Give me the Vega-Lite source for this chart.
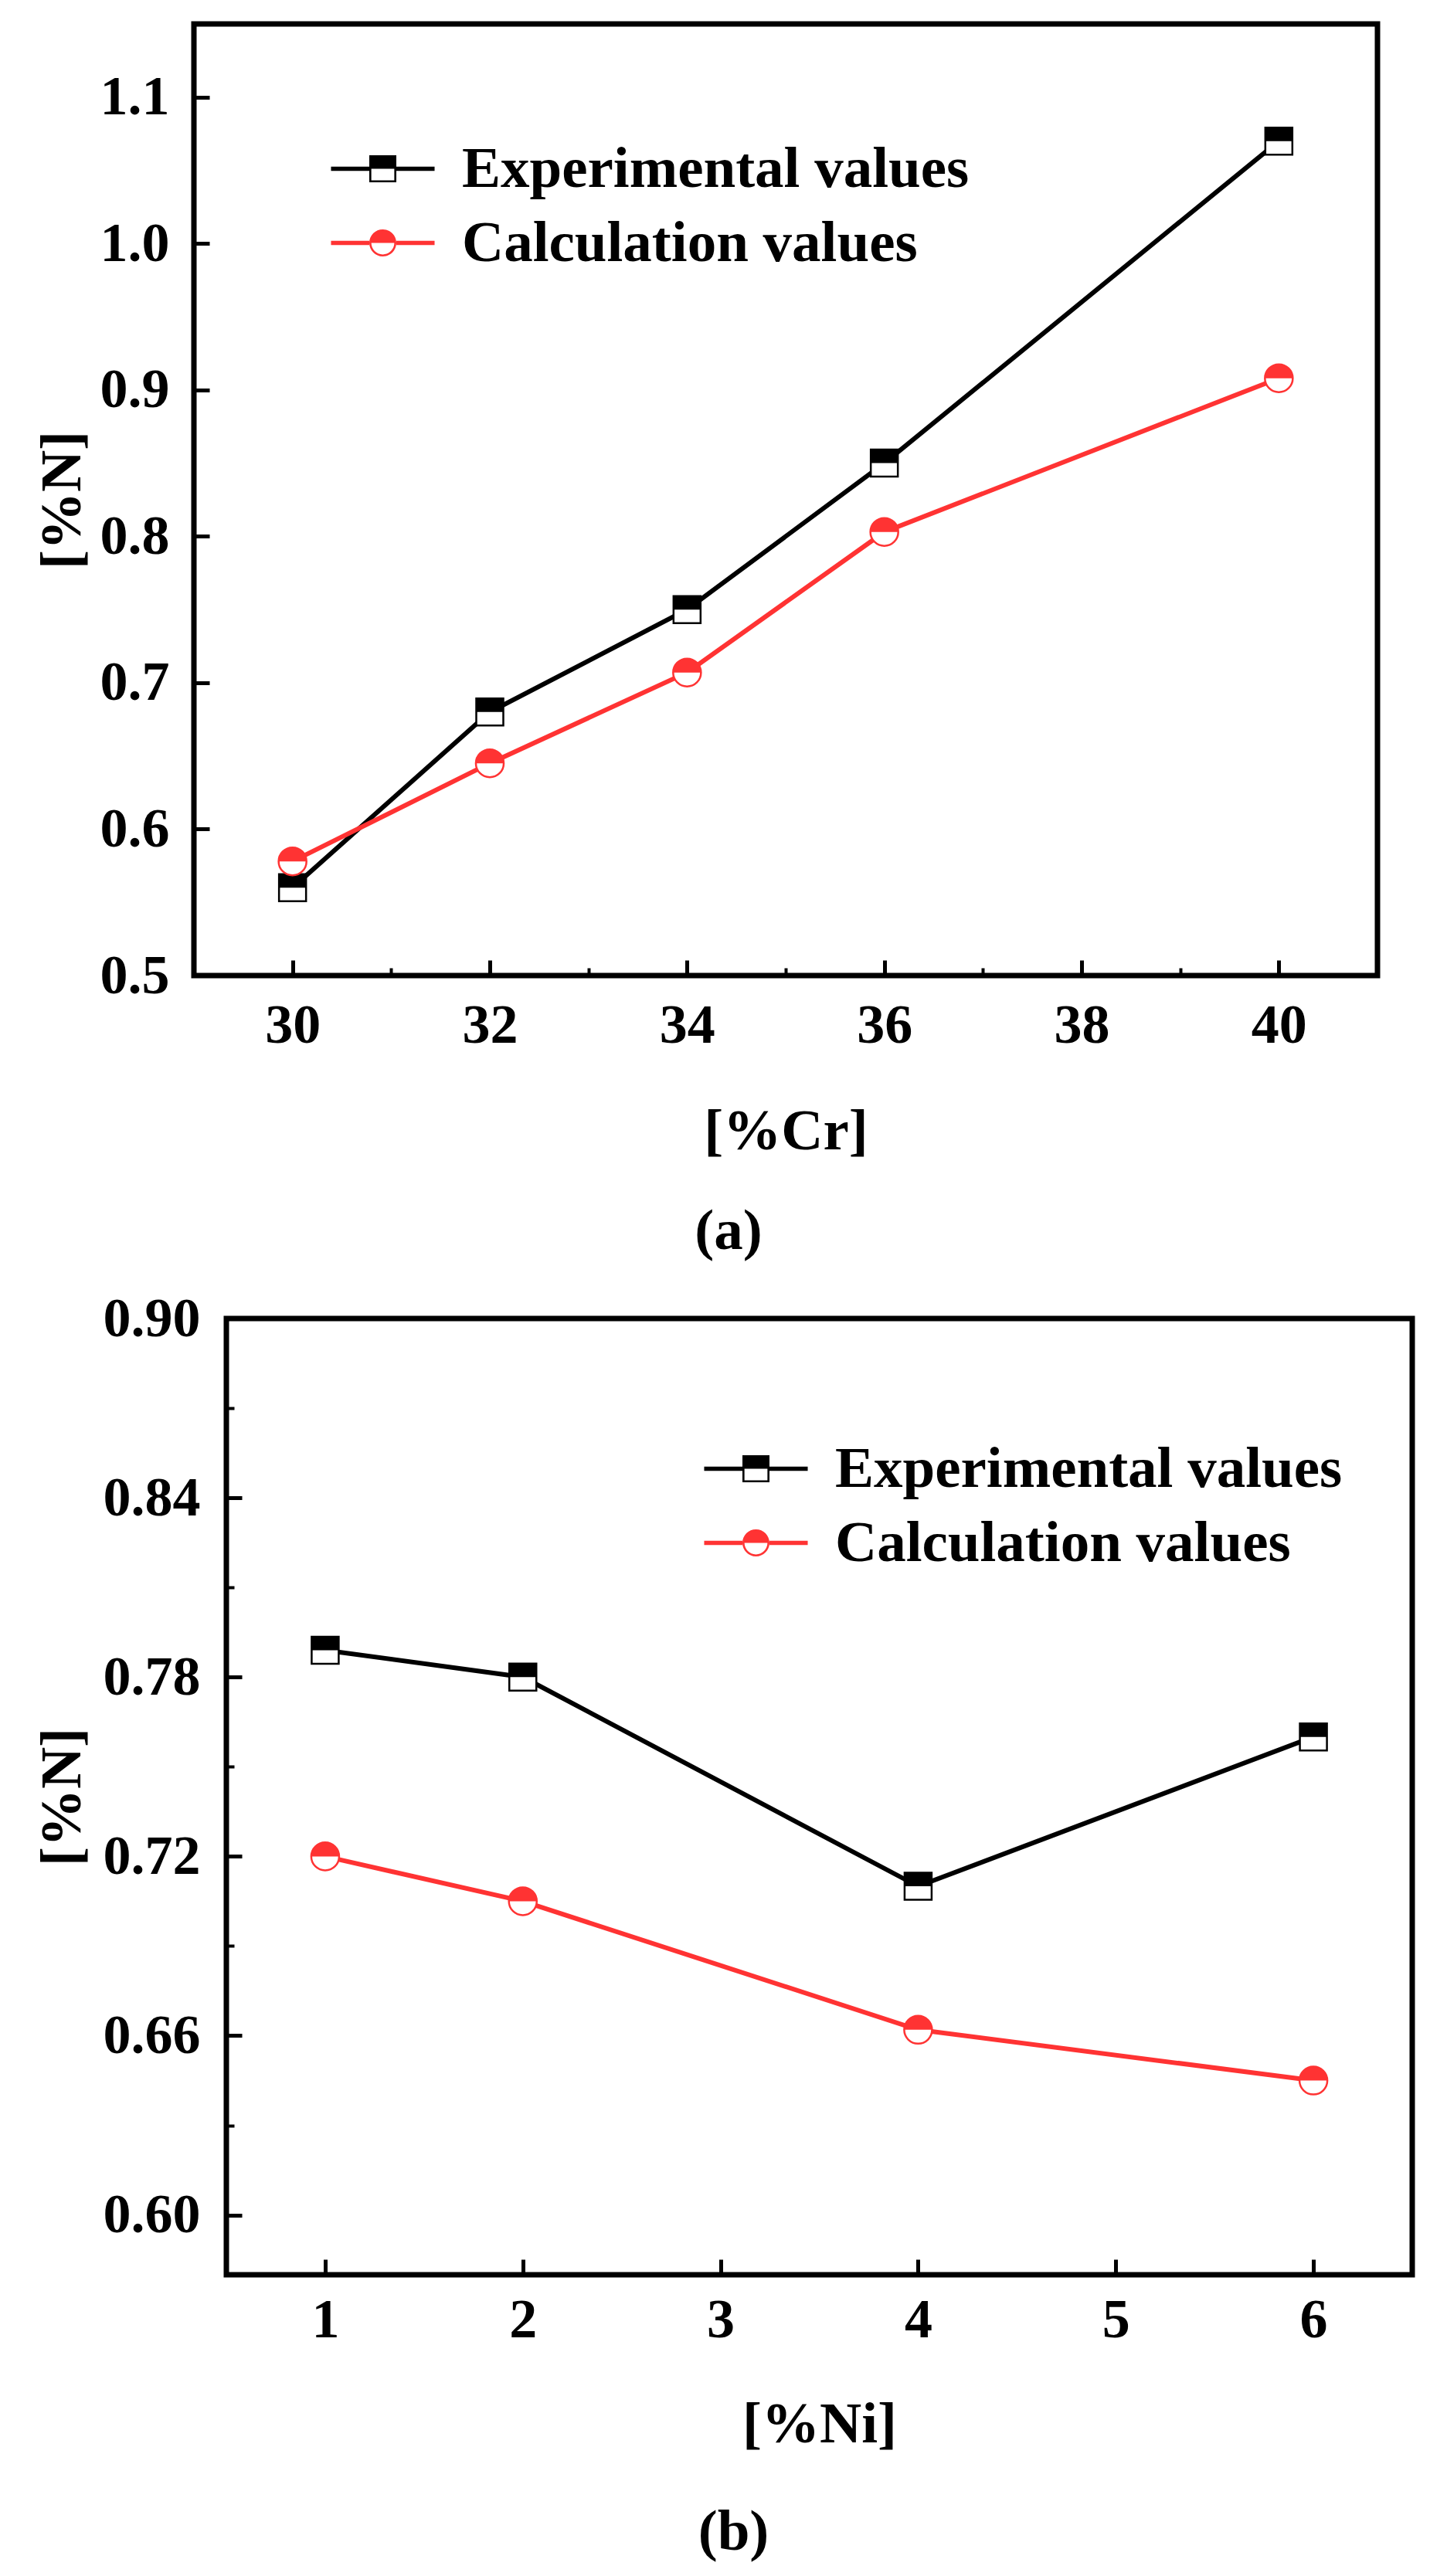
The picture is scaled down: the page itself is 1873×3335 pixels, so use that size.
{
  "$schema": "https://vega.github.io/schema/vega-lite/v6.json",
  "description": "Nitrogen solubility [%N] against [%Cr] (a) and [%Ni] (b): experimental vs calculated values",
  "background": "white",
  "padding": {"left": 38, "top": 27, "right": 0, "bottom": 0},
  "datasets": {
    "cr": [
      {"x": 30, "n": 0.56, "series": "Experimental values"},
      {"x": 32, "n": 0.68, "series": "Experimental values"},
      {"x": 34, "n": 0.75, "series": "Experimental values"},
      {"x": 36, "n": 0.85, "series": "Experimental values"},
      {"x": 40, "n": 1.07, "series": "Experimental values"},
      {"x": 30, "n": 0.578, "series": "Calculation values"},
      {"x": 32, "n": 0.645, "series": "Calculation values"},
      {"x": 34, "n": 0.707, "series": "Calculation values"},
      {"x": 36, "n": 0.803, "series": "Calculation values"},
      {"x": 40, "n": 0.908, "series": "Calculation values"}
    ],
    "ni": [
      {"x": 1, "n": 0.789, "series": "Experimental values"},
      {"x": 2, "n": 0.78, "series": "Experimental values"},
      {"x": 4, "n": 0.71, "series": "Experimental values"},
      {"x": 6, "n": 0.76, "series": "Experimental values"},
      {"x": 1, "n": 0.72, "series": "Calculation values"},
      {"x": 2, "n": 0.705, "series": "Calculation values"},
      {"x": 4, "n": 0.662, "series": "Calculation values"},
      {"x": 6, "n": 0.645, "series": "Calculation values"}
    ],
    "none": []
  },
  "spacing": 31,
  "resolve": {
    "scale": {"color": "independent", "shape": "independent"},
    "legend": {"color": "independent", "shape": "independent"}
  },
  "vconcat": [
    {
      "spacing": 0,
      "hconcat": [
        {
          "width": 1,
          "height": 1,
          "data": {"name": "none"},
          "mark": {"type": "rule"},
          "encoding": {},
          "view": {"stroke": null}
        },
        {
          "width": 1532,
          "height": 1232,
          "title": {"text": "(a)", "dx": -74, "offset": 56},
          "data": {"name": "cr"},
          "encoding": {
            "x": {
              "field": "x", "type": "quantitative",
              "scale": {"domain": [29, 41], "nice": false, "zero": false},
              "axis": {
                "title": "[%Cr]",
                "values": [30, 31, 32, 33, 34, 35, 36, 37, 38, 39, 40],
                "format": "d",
                "labelExpr": "datum.value % 2 == 0 ? datum.label : ''",
                "tickSize": {"condition": {"test": "datum.value % 2 == 0", "value": -20}, "value": -10},
                "tickWidth": {"condition": {"test": "datum.value % 2 == 0", "value": 5}, "value": 4},
                "labelPadding": 49,
                "titlePadding": 55
              }
            },
            "y": {
              "field": "n", "type": "quantitative",
              "scale": {"domain": [0.5, 1.15], "nice": false, "zero": false},
              "axis": {
                "title": "[%N]",
                "values": [0.5, 0.6, 0.7, 0.8, 0.9, 1.0, 1.1],
                "format": ".1f",
                "tickSize": -20,
                "tickWidth": 5,
                "labelPadding": 52,
                "titlePadding": 10
              }
            }
          },
          "layer": [
            {
              "transform": [{"filter": "datum.series == 'Experimental values'"}],
              "mark": {"type": "line", "color": "#000000", "strokeWidth": 6}
            },
            {
              "transform": [{"filter": "datum.series == 'Calculation values'"}],
              "mark": {"type": "line", "color": "#ff3333", "strokeWidth": 6}
            },
            {
              "transform": [{"filter": "datum.series == 'Experimental values'"}],
              "mark": {"type": "point", "shape": "square", "filled": true, "fill": "white", "stroke": "#000000", "strokeWidth": 2.5, "size": 1225, "opacity": 1}
            },
            {
              "transform": [{"filter": "datum.series == 'Experimental values'"}],
              "mark": {"type": "point", "shape": "M-1,-1H1V0H-1Z", "filled": true, "fill": "#000000", "strokeWidth": 0, "size": 1225, "opacity": 1}
            },
            {
              "transform": [{"filter": "datum.series == 'Calculation values'"}],
              "mark": {"type": "point", "shape": "circle", "filled": true, "fill": "white", "stroke": "#ff3333", "strokeWidth": 2.5, "size": 1300, "opacity": 1}
            },
            {
              "transform": [{"filter": "datum.series == 'Calculation values'"}],
              "mark": {"type": "point", "shape": "M-1,0A1,1 0 0 1 1,0Z", "filled": true, "fill": "#ff3333", "strokeWidth": 0, "size": 1300, "opacity": 1}
            },
            {
              "transform": [{"filter": "false"}],
              "mark": {"type": "point", "filled": true, "opacity": 1},
              "encoding": {
                "color": {
                  "field": "series", "type": "nominal",
                  "scale": {"domain": ["Experimental values", "Calculation values"], "range": ["#000000", "#ff3333"]},
                  "legend": {"title": null, "orient": "none", "legendX": 420, "legendY": 150}
                },
                "shape": {
                  "field": "series", "type": "nominal",
                  "scale": {
                    "domain": ["Experimental values", "Calculation values"],
                    "range": [
                      "M-3.83,-0.16H-1V0.16H-3.83ZM1,-0.16H3.83V0.16H1ZM-1,-1H1V0H-1ZM-1,0H1V1H-1ZM-0.85,0V0.85H0.85V0Z",
                      "M-3.83,-0.16H-1V0.16H-3.83ZM1,-0.16H3.83V0.16H1ZM-1,0A1,1 0 0 1 1,0A1,1 0 0 1 -1,0ZM0.85,0H-0.85A0.85,0.85 0 0 0 0.85,0Z"
                    ]
                  },
                  "legend": {"title": null, "orient": "none", "legendX": 420, "legendY": 150}
                }
              }
            }
          ]
        }
      ]
    },
    {
      "spacing": 0,
      "hconcat": [
        {
          "width": 1,
          "height": 1,
          "data": {"name": "none"},
          "mark": {"type": "rule"},
          "encoding": {},
          "view": {"stroke": null}
        },
        {
          "width": 1535,
          "height": 1238,
          "title": {"text": "(b)", "dx": -111, "offset": 66},
          "data": {"name": "ni"},
          "encoding": {
            "x": {
              "field": "x", "type": "quantitative",
              "scale": {"domain": [0.5, 6.5], "nice": false, "zero": false},
              "axis": {
                "title": "[%Ni]",
                "values": [1, 1.5, 2, 2.5, 3, 3.5, 4, 4.5, 5, 5.5, 6],
                "format": "d",
                "labelExpr": "datum.value % 1 == 0 ? datum.label : ''",
                "tickSize": {"condition": {"test": "datum.value % 1 == 0", "value": -20}, "value": -10},
                "tickWidth": {"condition": {"test": "datum.value % 1 == 0", "value": 5}, "value": 4},
                "labelPadding": 43,
                "titlePadding": 63
              }
            },
            "y": {
              "field": "n", "type": "quantitative",
              "scale": {"domain": [0.58, 0.9], "nice": false, "zero": false},
              "axis": {
                "title": "[%N]",
                "values": [0.6, 0.63, 0.66, 0.69, 0.72, 0.75, 0.78, 0.81, 0.84, 0.87, 0.9],
                "format": ".2f",
                "labelExpr": "round(datum.value * 100) % 6 == 0 ? datum.label : ''",
                "tickSize": {"condition": {"test": "round(datum.value * 100) % 6 == 0", "value": -20}, "value": -10},
                "tickWidth": {"condition": {"test": "round(datum.value * 100) % 6 == 0", "value": 5}, "value": 4},
                "labelPadding": 54,
                "titlePadding": 14
              }
            }
          },
          "layer": [
            {
              "transform": [{"filter": "datum.series == 'Experimental values'"}],
              "mark": {"type": "line", "color": "#000000", "strokeWidth": 6}
            },
            {
              "transform": [{"filter": "datum.series == 'Calculation values'"}],
              "mark": {"type": "line", "color": "#ff3333", "strokeWidth": 6}
            },
            {
              "transform": [{"filter": "datum.series == 'Experimental values'"}],
              "mark": {"type": "point", "shape": "square", "filled": true, "fill": "white", "stroke": "#000000", "strokeWidth": 2.5, "size": 1225, "opacity": 1}
            },
            {
              "transform": [{"filter": "datum.series == 'Experimental values'"}],
              "mark": {"type": "point", "shape": "M-1,-1H1V0H-1Z", "filled": true, "fill": "#000000", "strokeWidth": 0, "size": 1225, "opacity": 1}
            },
            {
              "transform": [{"filter": "datum.series == 'Calculation values'"}],
              "mark": {"type": "point", "shape": "circle", "filled": true, "fill": "white", "stroke": "#ff3333", "strokeWidth": 2.5, "size": 1300, "opacity": 1}
            },
            {
              "transform": [{"filter": "datum.series == 'Calculation values'"}],
              "mark": {"type": "point", "shape": "M-1,0A1,1 0 0 1 1,0Z", "filled": true, "fill": "#ff3333", "strokeWidth": 0, "size": 1300, "opacity": 1}
            },
            {
              "transform": [{"filter": "false"}],
              "mark": {"type": "point", "filled": true, "opacity": 1},
              "encoding": {
                "color": {
                  "field": "series", "type": "nominal",
                  "scale": {"domain": ["Experimental values", "Calculation values"], "range": ["#000000", "#ff3333"]},
                  "legend": {"title": null, "orient": "none", "legendX": 903, "legendY": 157}
                },
                "shape": {
                  "field": "series", "type": "nominal",
                  "scale": {
                    "domain": ["Experimental values", "Calculation values"],
                    "range": [
                      "M-3.83,-0.16H-1V0.16H-3.83ZM1,-0.16H3.83V0.16H1ZM-1,-1H1V0H-1ZM-1,0H1V1H-1ZM-0.85,0V0.85H0.85V0Z",
                      "M-3.83,-0.16H-1V0.16H-3.83ZM1,-0.16H3.83V0.16H1ZM-1,0A1,1 0 0 1 1,0A1,1 0 0 1 -1,0ZM0.85,0H-0.85A0.85,0.85 0 0 0 0.85,0Z"
                    ]
                  },
                  "legend": {"title": null, "orient": "none", "legendX": 903, "legendY": 157}
                }
              }
            }
          ]
        }
      ]
    }
  ],
  "config": {
    "view": {"stroke": "#000000", "strokeWidth": 7},
    "axis": {
      "domain": false,
      "grid": false,
      "tickColor": "#000000",
      "labelFont": "Liberation Serif",
      "labelFontSize": 72,
      "labelFontWeight": "bold",
      "labelColor": "#000000",
      "labelOverlap": false,
      "labelFlush": false,
      "titleFont": "Liberation Serif",
      "titleFontSize": 75,
      "titleFontWeight": "bold",
      "titleColor": "#000000"
    },
    "legend": {
      "padding": 0,
      "symbolSize": 1225,
      "symbolStrokeWidth": 0,
      "symbolOpacity": 1,
      "labelFont": "Liberation Serif",
      "labelFontSize": 75,
      "labelFontWeight": "bold",
      "labelColor": "#000000",
      "labelOffset": 65,
      "labelLimit": 2000,
      "rowPadding": 20
    },
    "title": {
      "font": "Liberation Serif",
      "fontSize": 75,
      "fontWeight": "bold",
      "color": "#000000",
      "orient": "bottom",
      "anchor": "middle",
      "frame": "group"
    }
  }
}
